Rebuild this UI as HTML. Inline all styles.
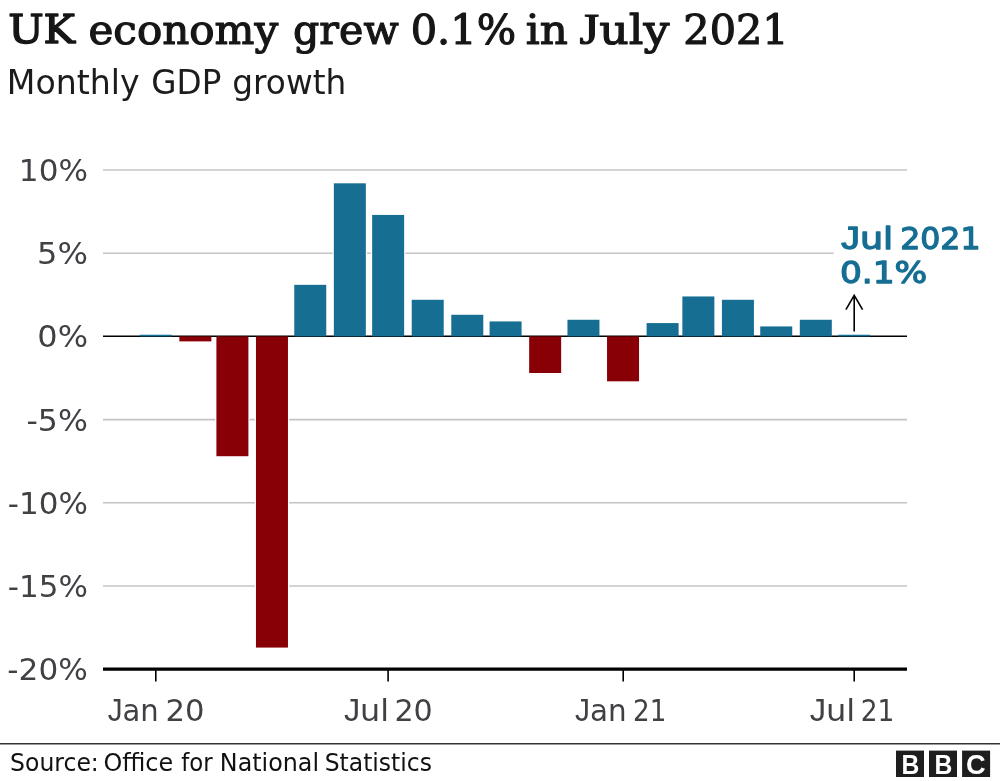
<!DOCTYPE html>
<html lang="en">
<head>
<meta charset="utf-8">
<title>UK economy grew 0.1% in July 2021</title>
<style>html,body{margin:0;padding:0;background:#fff}svg{display:block}</style>
</head>
<body>
<svg width="1000" height="781" viewBox="0 0 1000 781">
<rect width="1000" height="781" fill="#fff"/>
<text transform="translate(8.14,43.40) scale(1.0573,1)" font-family="'DejaVu Serif', 'Liberation Serif', serif" stroke="#161616" stroke-width="1.5" stroke-linejoin="round" font-size="39.8" fill="#161616">UK</text>
<text transform="translate(88.48,43.60) scale(1.0570,1.05)" font-family="'DejaVu Serif', 'Liberation Serif', serif" stroke="#161616" stroke-width="1.15" stroke-linejoin="round" font-size="39.8" fill="#161616">economy</text>
<text transform="translate(293.01,43.60) scale(1.0347,1.05)" font-family="'DejaVu Serif', 'Liberation Serif', serif" stroke="#161616" stroke-width="1.15" stroke-linejoin="round" font-size="39.8" fill="#161616">grew</text>
<text transform="translate(410.74,43.50) scale(1.0315,1)" font-family="'DejaVu Serif', 'Liberation Serif', serif" stroke="#161616" stroke-width="1.15" stroke-linejoin="round" font-size="40.2" fill="#161616">0.1%</text>
<text transform="translate(525.69,43.50) scale(1.0853,1)" font-family="'DejaVu Serif', 'Liberation Serif', serif" stroke="#161616" stroke-width="1.15" stroke-linejoin="round" font-size="40.2" fill="#161616">in</text>
<text transform="translate(579.51,43.50) scale(1.1418,1)" font-family="'DejaVu Serif', 'Liberation Serif', serif" stroke="#161616" stroke-width="1.15" stroke-linejoin="round" font-size="40.2" fill="#161616"><tspan font-family="'Liberation Serif', serif" font-size="1.1em">J</tspan>uly</text>
<text transform="translate(683.34,43.50) scale(1.0289,1)" font-family="'DejaVu Serif', 'Liberation Serif', serif" stroke="#161616" stroke-width="1.15" stroke-linejoin="round" font-size="40.2" fill="#161616">2021</text>
<text transform="translate(6.85,93.50) scale(1.0000,1)" font-family="'DejaVu Sans', 'Liberation Sans', sans-serif" font-size="33.2" fill="#1c1c1c">Monthly</text>
<text transform="translate(151.28,93.50) scale(0.9825,1)" font-family="'DejaVu Sans', 'Liberation Sans', sans-serif" font-size="33.2" fill="#1c1c1c">GDP</text>
<text transform="translate(232.27,93.50) scale(0.9874,1)" font-family="'DejaVu Sans', 'Liberation Sans', sans-serif" font-size="33.2" fill="#1c1c1c">growth</text>
<line x1="103" x2="907" y1="170.00" y2="170.00" stroke="#c4c4c4" stroke-width="1.6"/>
<line x1="103" x2="833.5" y1="253.20" y2="253.20" stroke="#c4c4c4" stroke-width="1.6"/>
<line x1="103" x2="907" y1="419.60" y2="419.60" stroke="#c4c4c4" stroke-width="1.6"/>
<line x1="103" x2="907" y1="502.80" y2="502.80" stroke="#c4c4c4" stroke-width="1.6"/>
<line x1="103" x2="907" y1="586.00" y2="586.00" stroke="#c4c4c4" stroke-width="1.6"/>
<text transform="translate(18.85,181.00) scale(1.0297,1)" font-family="'DejaVu Sans', 'Liberation Sans', sans-serif" font-size="30.2" fill="#404045">10%</text>
<text transform="translate(37.11,264.20) scale(1.0636,1)" font-family="'DejaVu Sans', 'Liberation Sans', sans-serif" font-size="30.2" fill="#404045">5%</text>
<text transform="translate(37.28,347.40) scale(1.0599,1)" font-family="'DejaVu Sans', 'Liberation Sans', sans-serif" font-size="30.2" fill="#404045">0%</text>
<text transform="translate(26.49,430.60) scale(1.0446,1)" font-family="'DejaVu Sans', 'Liberation Sans', sans-serif" font-size="30.2" fill="#404045">-5%</text>
<text transform="translate(7.72,513.80) scale(1.0272,1)" font-family="'DejaVu Sans', 'Liberation Sans', sans-serif" font-size="30.2" fill="#404045">-10%</text>
<text transform="translate(7.72,597.00) scale(1.0272,1)" font-family="'DejaVu Sans', 'Liberation Sans', sans-serif" font-size="30.2" fill="#404045">-15%</text>
<text transform="translate(7.31,680.20) scale(1.0326,1)" font-family="'DejaVu Sans', 'Liberation Sans', sans-serif" font-size="30.2" fill="#404045">-20%</text>
<rect x="215.20" y="335.20" width="34.4" height="122.21" fill="#fff"/>
<rect x="254.77" y="335.20" width="34.4" height="313.57" fill="#fff"/>
<rect x="293.07" y="283.62" width="34.4" height="53.98" fill="#fff"/>
<rect x="332.64" y="182.11" width="34.4" height="155.49" fill="#fff"/>
<rect x="370.94" y="213.73" width="34.4" height="123.87" fill="#fff"/>
<rect x="410.52" y="298.59" width="34.4" height="39.01" fill="#fff"/>
<rect x="450.09" y="313.57" width="34.4" height="24.03" fill="#fff"/>
<rect x="488.39" y="320.22" width="34.4" height="17.38" fill="#fff"/>
<rect x="527.96" y="335.20" width="34.4" height="39.01" fill="#fff"/>
<rect x="566.26" y="318.56" width="34.4" height="19.04" fill="#fff"/>
<rect x="605.84" y="335.20" width="34.4" height="47.33" fill="#fff"/>
<rect x="645.41" y="321.89" width="34.4" height="15.71" fill="#fff"/>
<rect x="681.15" y="295.26" width="34.4" height="42.34" fill="#fff"/>
<rect x="720.73" y="298.59" width="34.4" height="39.01" fill="#fff"/>
<rect x="759.03" y="325.22" width="34.4" height="12.38" fill="#fff"/>
<rect x="798.60" y="318.56" width="34.4" height="19.04" fill="#fff"/>
<line x1="103" x2="907" y1="336.20" y2="336.20" stroke="#000" stroke-width="1.6"/>
<rect x="139.80" y="334.74" width="32" height="1.66" fill="#166e93"/>
<rect x="179.37" y="336.40" width="32" height="4.99" fill="#880006"/>
<rect x="216.40" y="336.40" width="32" height="119.81" fill="#880006"/>
<rect x="255.97" y="336.40" width="32" height="311.17" fill="#880006"/>
<rect x="294.27" y="284.82" width="32" height="51.58" fill="#166e93"/>
<rect x="333.84" y="183.31" width="32" height="153.09" fill="#166e93"/>
<rect x="372.14" y="214.93" width="32" height="121.47" fill="#166e93"/>
<rect x="411.72" y="299.79" width="32" height="36.61" fill="#166e93"/>
<rect x="451.29" y="314.77" width="32" height="21.63" fill="#166e93"/>
<rect x="489.59" y="321.42" width="32" height="14.98" fill="#166e93"/>
<rect x="529.16" y="336.40" width="32" height="36.61" fill="#880006"/>
<rect x="567.46" y="319.76" width="32" height="16.64" fill="#166e93"/>
<rect x="607.04" y="336.40" width="32" height="44.93" fill="#880006"/>
<rect x="646.61" y="323.09" width="32" height="13.31" fill="#166e93"/>
<rect x="682.36" y="296.46" width="32" height="39.94" fill="#166e93"/>
<rect x="721.93" y="299.79" width="32" height="36.61" fill="#166e93"/>
<rect x="760.23" y="326.42" width="32" height="9.98" fill="#166e93"/>
<rect x="799.80" y="319.76" width="32" height="16.64" fill="#166e93"/>
<rect x="838.10" y="334.74" width="32" height="1.66" fill="#166e93"/>
<line x1="103" x2="907" y1="669.15" y2="669.15" stroke="#000" stroke-width="3.3"/>
<line x1="155.8" x2="155.8" y1="669" y2="681.5" stroke="#000" stroke-width="1.6"/>
<text transform="translate(107.73,720.60) scale(0.9498,1)" font-family="'DejaVu Sans', 'Liberation Sans', sans-serif" font-size="30.6" fill="#404045"><tspan font-family="'Liberation Sans', sans-serif" font-size="1.02em">J</tspan>an</text>
<text transform="translate(165.55,720.60) scale(1.0014,1)" font-family="'DejaVu Sans', 'Liberation Sans', sans-serif" font-size="30.6" fill="#404045">20</text>
<line x1="388.1" x2="388.1" y1="669" y2="681.5" stroke="#000" stroke-width="1.6"/>
<text transform="translate(343.88,720.60) scale(1.0385,1)" font-family="'DejaVu Sans', 'Liberation Sans', sans-serif" font-size="30.6" fill="#404045"><tspan font-family="'Liberation Sans', sans-serif" font-size="1.02em">J</tspan>ul</text>
<text transform="translate(394.39,720.60) scale(0.9842,1)" font-family="'DejaVu Sans', 'Liberation Sans', sans-serif" font-size="30.6" fill="#404045">20</text>
<line x1="623.2" x2="623.2" y1="669" y2="681.5" stroke="#000" stroke-width="1.6"/>
<text transform="translate(574.92,720.60) scale(0.9616,1)" font-family="'DejaVu Sans', 'Liberation Sans', sans-serif" font-size="30.6" fill="#404045"><tspan font-family="'Liberation Sans', sans-serif" font-size="1.02em">J</tspan>an</text>
<text transform="translate(633.07,720.60) scale(0.8588,1)" font-family="'DejaVu Sans', 'Liberation Sans', sans-serif" font-size="30.6" fill="#404045">21</text>
<line x1="854.2" x2="854.2" y1="669" y2="681.5" stroke="#000" stroke-width="1.6"/>
<text transform="translate(809.68,720.60) scale(1.0484,1)" font-family="'DejaVu Sans', 'Liberation Sans', sans-serif" font-size="30.6" fill="#404045"><tspan font-family="'Liberation Sans', sans-serif" font-size="1.02em">J</tspan>ul</text>
<text transform="translate(860.65,720.60) scale(0.8647,1)" font-family="'DejaVu Sans', 'Liberation Sans', sans-serif" font-size="30.6" fill="#404045">21</text>
<text transform="translate(841.30,248.90) scale(1.1857,1)" font-family="'DejaVu Sans', 'Liberation Sans', sans-serif" stroke="#166e93" stroke-width="1.3" stroke-linejoin="round" font-size="30.8" fill="#166e93"><tspan font-family="'Liberation Sans', sans-serif" font-size="1.02em">J</tspan>ul</text>
<text transform="translate(900.16,248.90) scale(1.0261,1)" font-family="'DejaVu Sans', 'Liberation Sans', sans-serif" stroke="#166e93" stroke-width="1.3" stroke-linejoin="round" font-size="30.8" fill="#166e93">2021</text>
<text transform="translate(839.90,283.40) scale(1.1171,1)" font-family="'DejaVu Sans', 'Liberation Sans', sans-serif" stroke="#166e93" stroke-width="1.3" stroke-linejoin="round" font-size="30.8" fill="#166e93">0.1%</text>
<path d="M854.2 331.5V295.6M845.9 309.7L854.2 295.4L862.6 309.7" fill="none" stroke="#000" stroke-width="1.6"/>
<line x1="0" x2="1000" y1="743.7" y2="743.7" stroke="#333" stroke-width="1.6"/>
<text transform="translate(10.07,771.30) scale(0.9532,1)" font-family="'DejaVu Sans', 'Liberation Sans', sans-serif" font-size="24.7" fill="#111">Source:</text>
<text transform="translate(103.39,771.30) scale(0.9698,1)" font-family="'DejaVu Sans', 'Liberation Sans', sans-serif" font-size="24.7" fill="#111">Office</text>
<text transform="translate(181.24,771.30) scale(0.9254,1)" font-family="'DejaVu Sans', 'Liberation Sans', sans-serif" font-size="24.7" fill="#111">for</text>
<text transform="translate(219.83,771.30) scale(0.9645,1)" font-family="'DejaVu Sans', 'Liberation Sans', sans-serif" font-size="24.7" fill="#111">National</text>
<text transform="translate(324.68,771.30) scale(0.9497,1)" font-family="'DejaVu Sans', 'Liberation Sans', sans-serif" font-size="24.7" fill="#111">Statistics</text>
<rect x="896" y="750.6" width="28" height="26.4" fill="#1e1e1e"/>
<text transform="translate(901.46,774.00) scale(0.8812,1)" font-family="'Liberation Sans', sans-serif" font-weight="bold" font-size="28" fill="#fff">B</text>
<rect x="929" y="750.6" width="28" height="26.4" fill="#1e1e1e"/>
<text transform="translate(934.46,774.00) scale(0.8812,1)" font-family="'Liberation Sans', sans-serif" font-weight="bold" font-size="28" fill="#fff">B</text>
<rect x="962.1" y="750.6" width="28" height="26.4" fill="#1e1e1e"/>
<text transform="translate(966.03,774.00) scale(0.9730,1)" font-family="'Liberation Sans', sans-serif" font-weight="bold" font-size="28" fill="#fff">C</text>
</svg>
</body>
</html>
